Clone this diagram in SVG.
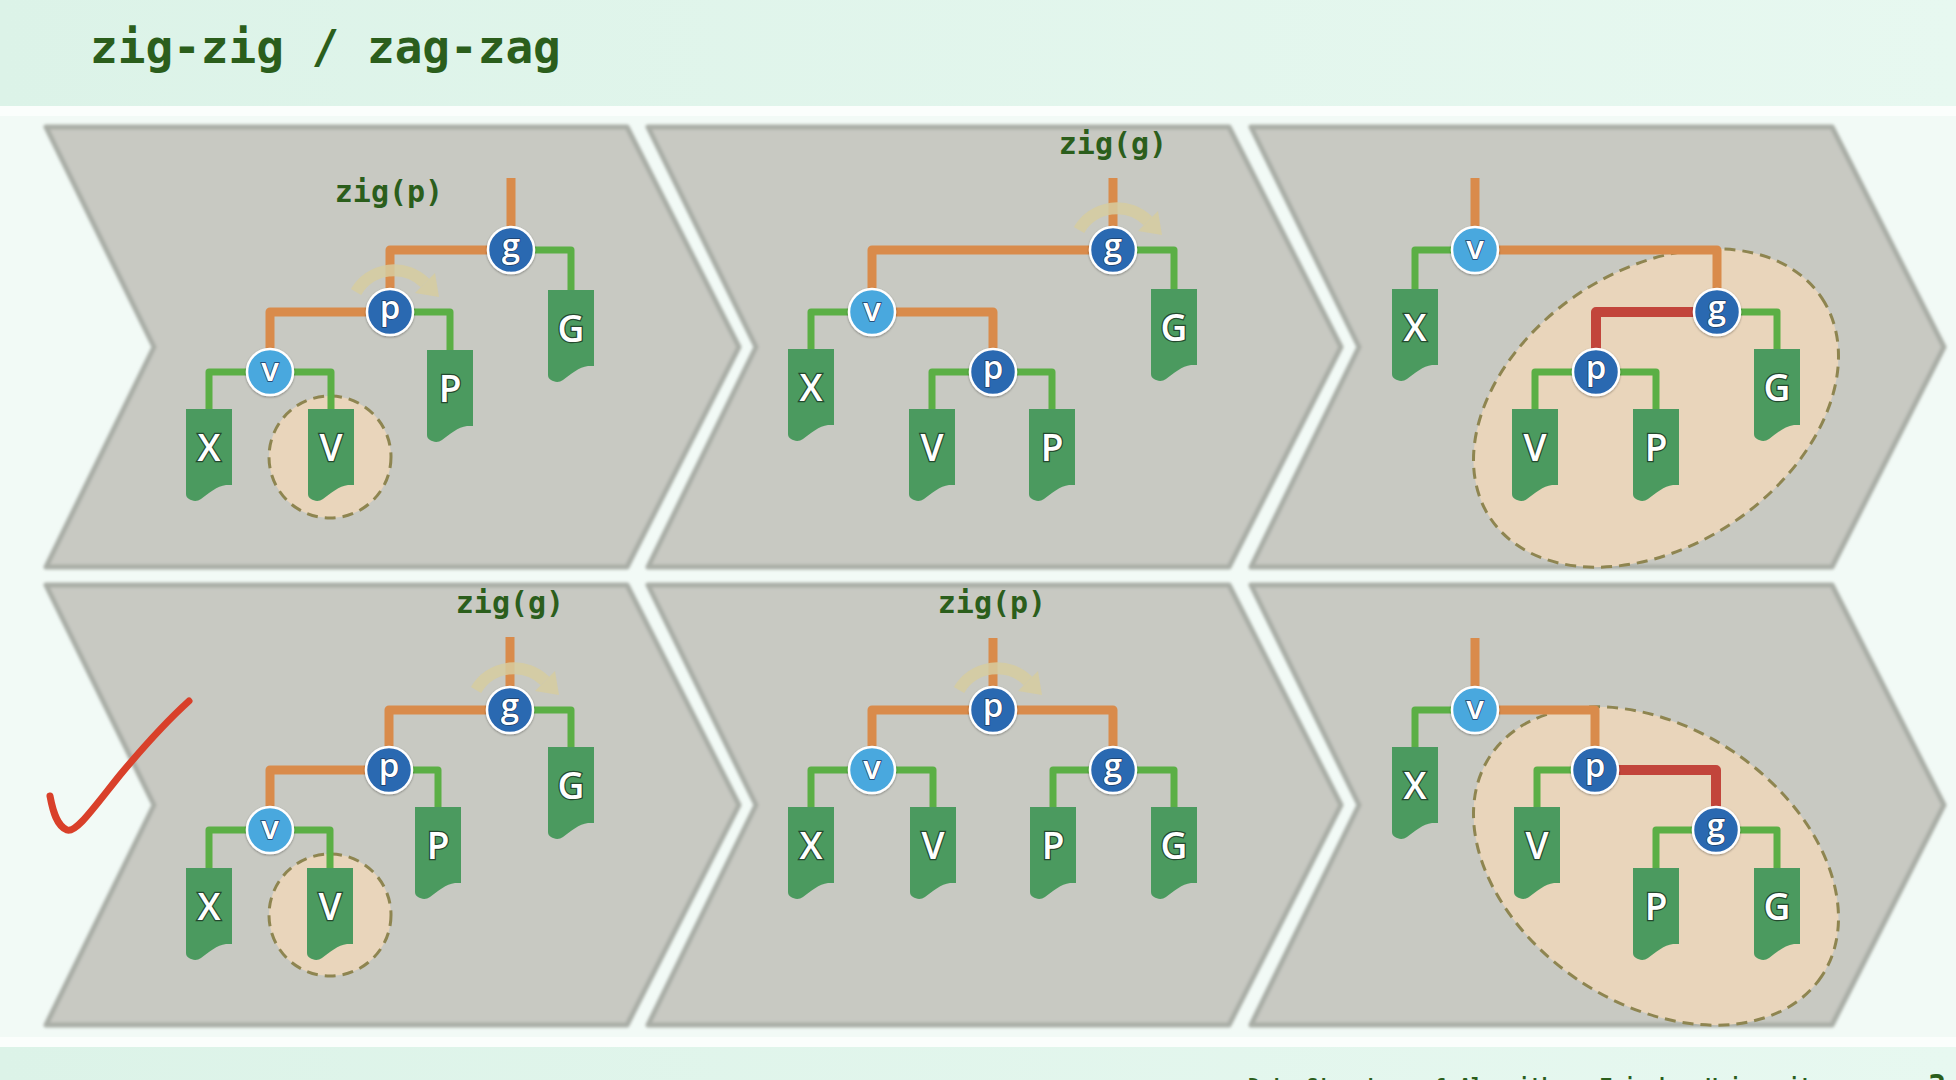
<svg xmlns="http://www.w3.org/2000/svg" xmlns:xlink="http://www.w3.org/1999/xlink" width="1956" height="1080" viewBox="0 0 1956 1080">
<style>
.chev{fill:#c8c9c2;stroke:#a9ada6;stroke-width:5;stroke-linejoin:round}
.org{fill:none;stroke:#d98b4b;stroke-width:9;stroke-linejoin:round}
.grn{fill:none;stroke:#5baf45;stroke-width:7;stroke-linejoin:round}
.red{fill:none;stroke:#c2453b;stroke-width:10;stroke-linejoin:round}
.dk{fill:#2c69b1;stroke:#fff;stroke-width:2.5;filter:url(#sh)}
.lt{fill:#4aa8de;stroke:#fff;stroke-width:2.5;filter:url(#sh)}
.nl{font-family:"Open Sans",Lato,sans-serif;font-weight:600;font-size:33px;fill:#fff;text-anchor:middle;paint-order:stroke;stroke:#1d3d66;stroke-width:1.5}
.leaf{fill:#4b9a5f}
.ll{font-family:"Open Sans",Lato,sans-serif;font-weight:600;font-size:37px;fill:#fff;text-anchor:middle;paint-order:stroke;stroke:#24492e;stroke-width:2.5}
.hl{fill:#e9d5bb;stroke:#8e8550;stroke-width:3;stroke-dasharray:11 7}
.lbl{font-family:"DejaVu Sans Mono","Liberation Mono",monospace;font-weight:bold;font-size:30px;fill:#2b5e1c;text-anchor:middle}
.rot{fill:none;stroke:#d6cda0;stroke-width:12;opacity:0.85}
.roth{fill:#d6cda0;opacity:0.85}
</style>
<defs>
<linearGradient id="hdr" x1="0" y1="0" x2="1" y2="0">
<stop offset="0" stop-color="#dcf3e8"/><stop offset="1" stop-color="#e7f8f0"/>
</linearGradient>
<filter id="soft" x="-5%" y="-5%" width="110%" height="110%"><feGaussianBlur stdDeviation="1.6"/></filter>
<filter id="sh" x="-30%" y="-30%" width="160%" height="160%"><feDropShadow dx="0" dy="1" stdDeviation="1.2" flood-color="#000" flood-opacity="0.35"/></filter>
<path id="leafShape" d="M-23,0 H23 V76 H17 C8,77 0,84 -8,90 C-12,93 -17,92 -20,90 C-22,89 -23,87 -23,85 Z"/>
<g id="rotArrow">
<path class="rot" d="M-34,-20 A44 44 0 0 1 35,-29"/>
<polygon class="roth" points="45,-39 25,-19 49,-15"/>
</g>
</defs>

<rect width="1956" height="1080" fill="#f2faf6"/>
<rect width="1956" height="106" fill="url(#hdr)"/>
<rect y="106" width="1956" height="10" fill="#fbfefc"/>
<rect y="1037" width="1956" height="10" fill="#fbfefc"/>
<rect y="1047" width="1956" height="33" fill="url(#hdr)"/>
<text x="90" y="63" font-family="DejaVu Sans Mono,Liberation Mono,monospace" font-weight="bold" font-size="46" fill="#2b5e1c">zig-zig / zag-zag</text>
<text x="1248" y="1092" font-family="DejaVu Sans Mono,Liberation Mono,monospace" font-weight="bold" font-size="19.5" fill="#2b5e1c">Data Structures &amp; Algorithms, Tsinghua University</text>
<text x="1937" y="1096" text-anchor="middle" font-family="DejaVu Sans Mono,Liberation Mono,monospace" font-weight="bold" font-size="30" fill="#2b5e1c">3</text>

<g id="chevrons" filter="url(#soft)">
<path class="chev" d="M46,127 H627 L739,347 L627,567 H46 L154,347 Z"/>
<path class="chev" d="M648,127 H1229 L1341,347 L1229,567 H648 L756,347 Z"/>
<path class="chev" d="M1251,127 H1832 L1944,347 L1832,567 H1251 L1359,347 Z"/>
<path class="chev" d="M46,585 H627 L739,805 L627,1025 H46 L154,805 Z"/>
<path class="chev" d="M648,585 H1229 L1341,805 L1229,1025 H648 L756,805 Z"/>
<path class="chev" d="M1251,585 H1832 L1944,805 L1832,1025 H1251 L1359,805 Z"/>
</g>

<g id="highlights">
<circle class="hl" cx="330" cy="457" r="61"/>
<circle class="hl" cx="330" cy="915" r="61"/>
<ellipse class="hl" cx="1656" cy="408" rx="199" ry="138" transform="rotate(-33.6 1656 408)"/>
<ellipse class="hl" cx="1656" cy="866" rx="199" ry="138" transform="rotate(33.6 1656 866)"/>
</g>

<g id="connectors">
<path class="org" d="M511,178 V250"/>
<path class="org" d="M511,250 H390 V312"/>
<path class="org" d="M390,312 H270 V372"/>
<path class="grn" d="M511,250 H571 V292"/>
<path class="grn" d="M390,312 H450 V352"/>
<path class="grn" d="M270,372 H209 V411"/>
<path class="grn" d="M270,372 H331 V411"/>
<path class="org" d="M1113,178 V250"/>
<path class="org" d="M1113,250 H872 V312"/>
<path class="org" d="M872,312 H993 V372"/>
<path class="grn" d="M1113,250 H1174 V291"/>
<path class="grn" d="M872,312 H811 V351"/>
<path class="grn" d="M993,372 H932 V411"/>
<path class="grn" d="M993,372 H1052 V411"/>
<path class="org" d="M1475,178 V250"/>
<path class="org" d="M1475,250 H1717 V312"/>
<path class="red" d="M1717,312 H1596 V372"/>
<path class="grn" d="M1475,250 H1415 V291"/>
<path class="grn" d="M1717,312 H1777 V351"/>
<path class="grn" d="M1596,372 H1535 V411"/>
<path class="grn" d="M1596,372 H1656 V411"/>
<path class="org" d="M510,637 V710"/>
<path class="org" d="M510,710 H389 V770"/>
<path class="org" d="M389,770 H270 V830"/>
<path class="grn" d="M510,710 H571 V749"/>
<path class="grn" d="M389,770 H438 V809"/>
<path class="grn" d="M270,830 H209 V870"/>
<path class="grn" d="M270,830 H330 V870"/>
<path class="org" d="M993,638 V710"/>
<path class="org" d="M993,710 H872 V770"/>
<path class="org" d="M993,710 H1113 V770"/>
<path class="grn" d="M872,770 H811 V809"/>
<path class="grn" d="M872,770 H933 V809"/>
<path class="grn" d="M1113,770 H1053 V809"/>
<path class="grn" d="M1113,770 H1174 V809"/>
<path class="org" d="M1475,638 V710"/>
<path class="org" d="M1475,710 H1595 V770"/>
<path class="red" d="M1595,770 H1716 V830"/>
<path class="grn" d="M1475,710 H1415 V749"/>
<path class="grn" d="M1595,770 H1537 V809"/>
<path class="grn" d="M1716,830 H1656 V870"/>
<path class="grn" d="M1716,830 H1777 V870"/>
</g>

<g id="rotations">
<use href="#rotArrow" xlink:href="#rotArrow" transform="translate(390,312)"/>
<use href="#rotArrow" xlink:href="#rotArrow" transform="translate(1113,250)"/>
<use href="#rotArrow" xlink:href="#rotArrow" transform="translate(510,710)"/>
<use href="#rotArrow" xlink:href="#rotArrow" transform="translate(993,710)"/>
</g>

<g id="labels">
<text class="lbl" x="389" y="202">zig(p)</text>
<text class="lbl" x="1113" y="154">zig(g)</text>
<text class="lbl" x="510" y="613">zig(g)</text>
<text class="lbl" x="992" y="613">zig(p)</text>
</g>

<g id="A-g"><circle class="dk" cx="511" cy="250" r="23"/><text class="nl" x="511" y="257">g</text></g>
<g id="A-p"><circle class="dk" cx="390" cy="312" r="23"/><text class="nl" x="390" y="319">p</text></g>
<g id="A-v"><circle class="lt" cx="270" cy="372" r="23"/><text class="nl" x="270" y="381">v</text></g>
<g id="A-X"><use href="#leafShape" xlink:href="#leafShape" class="leaf" transform="translate(209,409)"/><text class="ll" x="209" y="461">X</text></g>
<g id="A-V"><use href="#leafShape" xlink:href="#leafShape" class="leaf" transform="translate(331,409)"/><text class="ll" x="331" y="461">V</text></g>
<g id="A-P"><use href="#leafShape" xlink:href="#leafShape" class="leaf" transform="translate(450,350)"/><text class="ll" x="450" y="402">P</text></g>
<g id="A-G"><use href="#leafShape" xlink:href="#leafShape" class="leaf" transform="translate(571,290)"/><text class="ll" x="571" y="342">G</text></g>

<g id="B-g"><circle class="dk" cx="1113" cy="250" r="23"/><text class="nl" x="1113" y="257">g</text></g>
<g id="B-v"><circle class="lt" cx="872" cy="312" r="23"/><text class="nl" x="872" y="321">v</text></g>
<g id="B-p"><circle class="dk" cx="993" cy="372" r="23"/><text class="nl" x="993" y="379">p</text></g>
<g id="B-X"><use href="#leafShape" xlink:href="#leafShape" class="leaf" transform="translate(811,349)"/><text class="ll" x="811" y="401">X</text></g>
<g id="B-V"><use href="#leafShape" xlink:href="#leafShape" class="leaf" transform="translate(932,409)"/><text class="ll" x="932" y="461">V</text></g>
<g id="B-P"><use href="#leafShape" xlink:href="#leafShape" class="leaf" transform="translate(1052,409)"/><text class="ll" x="1052" y="461">P</text></g>
<g id="B-G"><use href="#leafShape" xlink:href="#leafShape" class="leaf" transform="translate(1174,289)"/><text class="ll" x="1174" y="341">G</text></g>

<g id="C-v"><circle class="lt" cx="1475" cy="250" r="23"/><text class="nl" x="1475" y="259">v</text></g>
<g id="C-g"><circle class="dk" cx="1717" cy="312" r="23"/><text class="nl" x="1717" y="319">g</text></g>
<g id="C-p"><circle class="dk" cx="1596" cy="372" r="23"/><text class="nl" x="1596" y="379">p</text></g>
<g id="C-X"><use href="#leafShape" xlink:href="#leafShape" class="leaf" transform="translate(1415,289)"/><text class="ll" x="1415" y="341">X</text></g>
<g id="C-V"><use href="#leafShape" xlink:href="#leafShape" class="leaf" transform="translate(1535,409)"/><text class="ll" x="1535" y="461">V</text></g>
<g id="C-P"><use href="#leafShape" xlink:href="#leafShape" class="leaf" transform="translate(1656,409)"/><text class="ll" x="1656" y="461">P</text></g>
<g id="C-G"><use href="#leafShape" xlink:href="#leafShape" class="leaf" transform="translate(1777,349)"/><text class="ll" x="1777" y="401">G</text></g>

<g id="D-g"><circle class="dk" cx="510" cy="710" r="23"/><text class="nl" x="510" y="717">g</text></g>
<g id="D-p"><circle class="dk" cx="389" cy="770" r="23"/><text class="nl" x="389" y="777">p</text></g>
<g id="D-v"><circle class="lt" cx="270" cy="830" r="23"/><text class="nl" x="270" y="839">v</text></g>
<g id="D-X"><use href="#leafShape" xlink:href="#leafShape" class="leaf" transform="translate(209,868)"/><text class="ll" x="209" y="920">X</text></g>
<g id="D-V"><use href="#leafShape" xlink:href="#leafShape" class="leaf" transform="translate(330,868)"/><text class="ll" x="330" y="920">V</text></g>
<g id="D-P"><use href="#leafShape" xlink:href="#leafShape" class="leaf" transform="translate(438,807)"/><text class="ll" x="438" y="859">P</text></g>
<g id="D-G"><use href="#leafShape" xlink:href="#leafShape" class="leaf" transform="translate(571,747)"/><text class="ll" x="571" y="799">G</text></g>

<g id="E-p"><circle class="dk" cx="993" cy="710" r="23"/><text class="nl" x="993" y="717">p</text></g>
<g id="E-v"><circle class="lt" cx="872" cy="770" r="23"/><text class="nl" x="872" y="779">v</text></g>
<g id="E-g"><circle class="dk" cx="1113" cy="770" r="23"/><text class="nl" x="1113" y="777">g</text></g>
<g id="E-X"><use href="#leafShape" xlink:href="#leafShape" class="leaf" transform="translate(811,807)"/><text class="ll" x="811" y="859">X</text></g>
<g id="E-V"><use href="#leafShape" xlink:href="#leafShape" class="leaf" transform="translate(933,807)"/><text class="ll" x="933" y="859">V</text></g>
<g id="E-P"><use href="#leafShape" xlink:href="#leafShape" class="leaf" transform="translate(1053,807)"/><text class="ll" x="1053" y="859">P</text></g>
<g id="E-G"><use href="#leafShape" xlink:href="#leafShape" class="leaf" transform="translate(1174,807)"/><text class="ll" x="1174" y="859">G</text></g>

<g id="F-v"><circle class="lt" cx="1475" cy="710" r="23"/><text class="nl" x="1475" y="719">v</text></g>
<g id="F-p"><circle class="dk" cx="1595" cy="770" r="23"/><text class="nl" x="1595" y="777">p</text></g>
<g id="F-g"><circle class="dk" cx="1716" cy="830" r="23"/><text class="nl" x="1716" y="837">g</text></g>
<g id="F-X"><use href="#leafShape" xlink:href="#leafShape" class="leaf" transform="translate(1415,747)"/><text class="ll" x="1415" y="799">X</text></g>
<g id="F-V"><use href="#leafShape" xlink:href="#leafShape" class="leaf" transform="translate(1537,807)"/><text class="ll" x="1537" y="859">V</text></g>
<g id="F-P"><use href="#leafShape" xlink:href="#leafShape" class="leaf" transform="translate(1656,868)"/><text class="ll" x="1656" y="920">P</text></g>
<g id="F-G"><use href="#leafShape" xlink:href="#leafShape" class="leaf" transform="translate(1777,868)"/><text class="ll" x="1777" y="920">G</text></g>

<path id="checkmark" d="M50,796 C53,812 57,826 67,830 C76,833 92,810 120,775 C145,745 168,720 189,701" fill="none" stroke="#d9402a" stroke-width="7" stroke-linecap="round" stroke-linejoin="round"/>
</svg>
